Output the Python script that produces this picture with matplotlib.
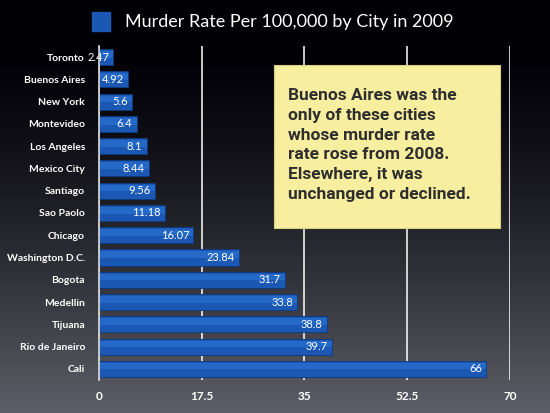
import numpy as np
import matplotlib.pyplot as plt
from matplotlib.patches import Rectangle

# murder rate per 100,000, 2009 (top to bottom as shown)
cities = ["Toronto", "Buenos Aires", "New York", "Montevideo", "Los Angeles",
          "Mexico City", "Santiago", "Sao Paolo", "Chicago", "Washington D.C.",
          "Bogota", "Medellin", "Tijuana", "Rio de Janeiro", "Cali"]
rates = [2.47, 4.92, 5.6, 6.4, 8.1, 8.44, 9.56, 11.18, 16.07, 23.84,
         31.7, 33.8, 38.8, 39.7, 66]
value_labels = ["2.47", "4.92", "5.6", "6.4", "8.1", "8.44", "9.56", "11.18",
                "16.07", "23.84", "31.7", "33.8", "38.8", "39.7", "66"]
xticks = [0, 17.5, 35, 52.5, 70]
xtick_labels = ["0", "17.5", "35", "52.5", "70"]

title = "Murder Rate Per 100,000 by City in 2009"
note = ("Buenos Aires was the\nonly of these cities\nwhose murder rate\n"
        "rate rose from 2008.\nElsewhere, it was\nunchanged or declined.")

plt.rcParams['font.family'] = ['Lato', 'DejaVu Sans']

fig = plt.figure(figsize=(5.5, 4.13), dpi=100)

# background gradient, black at the top to grey at the bottom
bg = fig.add_axes([0, 0, 1, 1], zorder=-10)
t = np.linspace(0, 1, 256).reshape(-1, 1)
shade = np.clip((t - 0.1) / 0.9, 0, 1) ** 1.4
top = np.array([0.0, 0.0, 0.02])
bottom = np.array([0.37, 0.37, 0.41])
img = top + (bottom - top) * shade[..., None]
bg.imshow(img, aspect='auto', extent=[0, 1, 0, 1], origin='upper')
bg.set_axis_off()

ax = fig.add_axes([0.18, 0.080, 0.747, 0.8086])
ax.patch.set_alpha(0)

y = np.arange(len(cities))
ax.barh(y, rates, height=0.72, color='#1a58b4', edgecolor='#0d3a80',
        linewidth=0.6, zorder=3)
# lighter upper band to hint at the glossy bars
ax.barh(y - 0.12, rates, height=0.3, color='#2569c8', linewidth=0, zorder=3)

for yi, r, lab in zip(y, rates, value_labels):
    ax.text(r - 0.7, yi, lab, ha='right', va='center', color='white',
            fontsize=8, zorder=4)

ax.set_ylim(len(cities) - 0.5, -0.5)
ax.set_xlim(0, 70)
ax.set_yticks(y)
ax.set_yticklabels(cities, color='white', fontsize=7.5, fontweight='bold')
ax.set_xticks(xticks)
ax.set_xticklabels(xtick_labels, color='white', fontsize=8.5, fontweight='bold')
ax.tick_params(axis='y', length=0, pad=10)
ax.tick_params(axis='x', length=0, pad=8)
ax.grid(axis='x', color='white', linewidth=1.1, zorder=1)
for s in ['top', 'right', 'bottom']:
    ax.spines[s].set_visible(False)
ax.spines['left'].set_color('#dddddd')
ax.spines['left'].set_linewidth(1.2)
ax.spines['left'].set_zorder(5)

# legend-like title with blue square
fig.patches.append(Rectangle((92 / 550, 1 - 31 / 413), 18 / 550, 19 / 413,
                             transform=fig.transFigure, color='#1a58b4',
                             figure=fig))
fig.text(125 / 550, 1 - 22 / 413, title, color='white', fontsize=13,
         va='center', ha='left')

# sticky note
fig.patches.append(Rectangle((274 / 550, 1 - 228 / 413), 226 / 550, 163 / 413,
                             transform=fig.transFigure, facecolor='#f7eea0',
                             edgecolor='#d8cf80', linewidth=0.8, zorder=6,
                             figure=fig))
fig.text(288 / 550, 1 - 145 / 413, note, color='#2e2e2e', fontsize=12.5,
         fontweight='bold', va='center', ha='left', linespacing=1.4,
         family=['Roboto', 'DejaVu Sans'], zorder=7)

fig.savefig("out.png", dpi=100)
